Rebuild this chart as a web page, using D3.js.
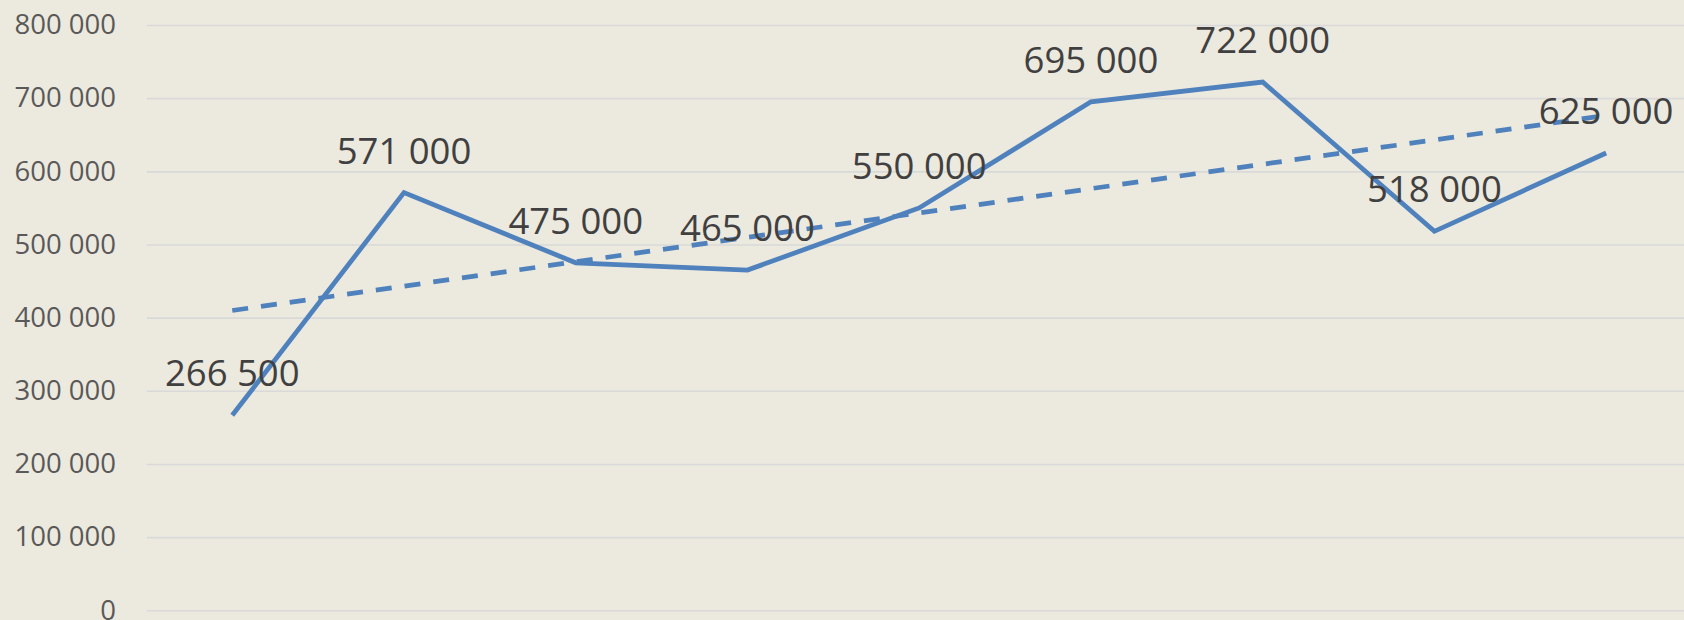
<!DOCTYPE html>
<html>
<head>
<meta charset="utf-8">
<script src="https://cdn.jsdelivr.net/npm/d3@7"></script>
<style>
  html, body { margin: 0; padding: 0; background: #ECE9DF; }
  svg { display: block; }
</style>
</head>
<body>
<svg id="chart" width="1684" height="620"></svg>
<script>
const categories = ["1", "2", "3", "4", "5", "6", "7", "8", "9"];
const values = [266500, 571000, 475000, 465000, 550000, 695000, 722000, 518000, 625000];
const yTicks = [0, 100000, 200000, 300000, 400000, 500000, 600000, 700000, 800000];

const W = 1684, H = 620;
const plotLeft = 147;
const svg = d3.select("#chart");

const x = d3.scaleBand().domain(categories).range([146.4, 1692]);
const y = d3.scaleLinear().domain([0, 800000]).range([610.3, 25]);
const cx = d => x(d) + x.bandwidth() / 2;

const fmt = v => d3.format(",")(v).replace(/,/g, " ");

svg.append("rect").attr("width", W).attr("height", H).attr("fill", "#ECE9DF");

// gridlines + y labels
const yAxis = d3.axisLeft(y).tickValues(yTicks).tickSize(-(W - plotLeft)).tickFormat(fmt).tickPadding(31);
const gy = svg.append("g").attr("transform", `translate(${plotLeft},0)`).call(yAxis);
gy.select(".domain").remove();
gy.selectAll(".tick line").attr("stroke", "#D9D9D9").attr("stroke-width", 1.6);
gy.selectAll(".tick text")
  .attr("fill", "#595959")
  .attr("font-family", "'Open Sans', sans-serif")
  .attr("font-size", 27.5);

// trendline (linear least squares on category index)
const n = values.length;
const xs = values.map((_, i) => i + 1);
const mx = d3.mean(xs), my = d3.mean(values);
const slope = d3.sum(xs.map((xi, i) => (xi - mx) * (values[i] - my))) / d3.sum(xs.map(xi => (xi - mx) ** 2));
const intercept = my - slope * mx;
const trend = [
  { c: categories[0], v: intercept + slope * 1 },
  { c: categories[n - 1], v: intercept + slope * n }
];

svg.append("path")
  .datum(trend)
  .attr("fill", "none")
  .attr("stroke", "#4F81BD")
  .attr("stroke-width", 4.75)
  .attr("stroke-dasharray", "16,13")
  .attr("d", d3.line().x(d => cx(d.c)).y(d => y(d.v)));

// main line
const data = categories.map((c, i) => ({ c, v: values[i] }));
svg.append("path")
  .datum(data)
  .attr("fill", "none")
  .attr("stroke", "#4F81BD")
  .attr("stroke-width", 4.75)
  .attr("stroke-linejoin", "miter")
  .attr("d", d3.line().x(d => cx(d.c)).y(d => y(d.v)));

// data labels
svg.append("g").selectAll("text")
  .data(data)
  .join("text")
  .attr("x", d => cx(d.c))
  .attr("y", d => y(d.v) - 29)
  .attr("text-anchor", "middle")
  .attr("fill", "#404040")
  .attr("font-family", "'Open Sans', sans-serif")
  .attr("font-size", 36.5)
  .text(d => fmt(d.v));
</script>
</body>
</html>
